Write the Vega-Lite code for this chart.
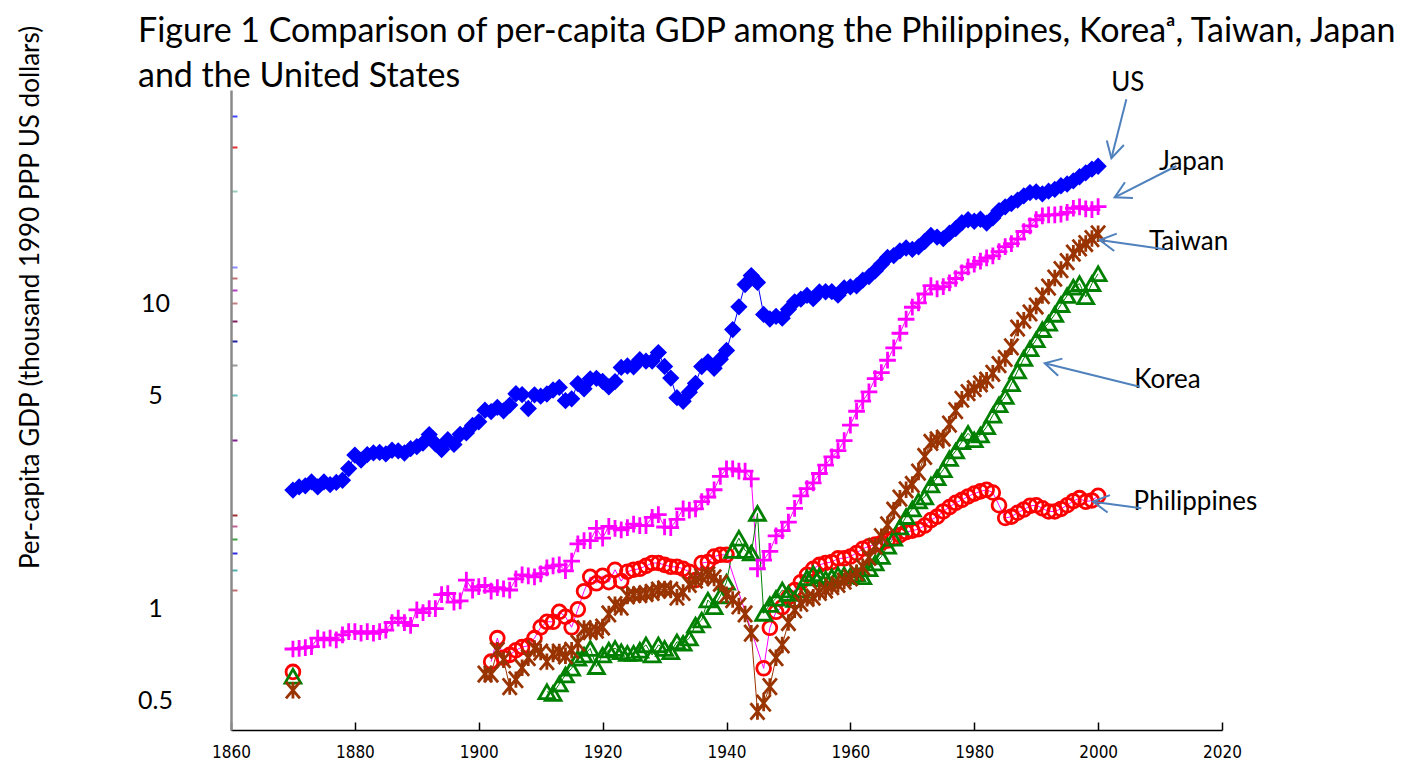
{
  "$schema": "https://vega.github.io/schema/vega-lite/v6.json",
  "width": 991,
  "height": 640,
  "autosize": {"type": "none"},
  "padding": {"left": 231, "top": 90, "right": 205, "bottom": 40},
  "background": "white",
  "config": {"view": {"stroke": null}},
  "title": {
    "text": ["Figure 1 Comparison of per-capita GDP among the Philippines, Koreaᵃ, Taiwan, Japan", "and the United States"],
    "anchor": "start", "frame": "group", "dx": -93, "dy": 73, "offset": 4,
    "font": "Lato", "fontSize": 34, "fontWeight": "normal", "lineHeight": 45, "color": "black"
  },
  "data": {"values": [
    {"c":"US","year":1870,"v":2.445},{"c":"US","year":1871,"v":2.503},{"c":"US","year":1872,"v":2.524},{"c":"US","year":1873,"v":2.599},{"c":"US","year":1874,"v":2.503},{"c":"US","year":1875,"v":2.599},{"c":"US","year":1876,"v":2.547},{"c":"US","year":1877,"v":2.589},{"c":"US","year":1878,"v":2.632},{"c":"US","year":1879,"v":2.874},
    {"c":"US","year":1880,"v":3.184},{"c":"US","year":1881,"v":3.065},{"c":"US","year":1882,"v":3.195},{"c":"US","year":1883,"v":3.235},{"c":"US","year":1884,"v":3.246},{"c":"US","year":1885,"v":3.21},{"c":"US","year":1886,"v":3.301},{"c":"US","year":1887,"v":3.287},{"c":"US","year":1888,"v":3.233},{"c":"US","year":1889,"v":3.34},
    {"c":"US","year":1890,"v":3.392},{"c":"US","year":1891,"v":3.485},{"c":"US","year":1892,"v":3.715},{"c":"US","year":1893,"v":3.467},{"c":"US","year":1894,"v":3.319},{"c":"US","year":1895,"v":3.575},{"c":"US","year":1896,"v":3.45},{"c":"US","year":1897,"v":3.722},{"c":"US","year":1898,"v":3.761},{"c":"US","year":1899,"v":3.979},
    {"c":"US","year":1900,"v":4.091},{"c":"US","year":1901,"v":4.464},{"c":"US","year":1902,"v":4.421},{"c":"US","year":1903,"v":4.564},{"c":"US","year":1904,"v":4.446},{"c":"US","year":1905,"v":4.642},{"c":"US","year":1906,"v":5.055},{"c":"US","year":1907,"v":5.025},{"c":"US","year":1908,"v":4.523},{"c":"US","year":1909,"v":5.016},
    {"c":"US","year":1910,"v":4.964},{"c":"US","year":1911,"v":5.046},{"c":"US","year":1912,"v":5.201},{"c":"US","year":1913,"v":5.301},{"c":"US","year":1914,"v":4.799},{"c":"US","year":1915,"v":4.864},{"c":"US","year":1916,"v":5.459},{"c":"US","year":1917,"v":5.248},{"c":"US","year":1918,"v":5.659},{"c":"US","year":1919,"v":5.68},
    {"c":"US","year":1920,"v":5.552},{"c":"US","year":1921,"v":5.323},{"c":"US","year":1922,"v":5.54},{"c":"US","year":1923,"v":6.164},{"c":"US","year":1924,"v":6.233},{"c":"US","year":1925,"v":6.198},{"c":"US","year":1926,"v":6.538},{"c":"US","year":1927,"v":6.464},{"c":"US","year":1928,"v":6.47},{"c":"US","year":1929,"v":6.899},
    {"c":"US","year":1930,"v":6.213},{"c":"US","year":1931,"v":5.691},{"c":"US","year":1932,"v":4.908},{"c":"US","year":1933,"v":4.777},{"c":"US","year":1934,"v":5.114},{"c":"US","year":1935,"v":5.467},{"c":"US","year":1936,"v":6.204},{"c":"US","year":1937,"v":6.43},{"c":"US","year":1938,"v":6.126},{"c":"US","year":1939,"v":6.561},
    {"c":"US","year":1940,"v":7.01},{"c":"US","year":1941,"v":8.206},{"c":"US","year":1942,"v":9.741},{"c":"US","year":1943,"v":11.518},{"c":"US","year":1944,"v":12.333},{"c":"US","year":1945,"v":11.709},{"c":"US","year":1946,"v":9.197},{"c":"US","year":1947,"v":8.886},{"c":"US","year":1948,"v":9.065},{"c":"US","year":1949,"v":8.944},
    {"c":"US","year":1950,"v":9.561},{"c":"US","year":1951,"v":10.116},{"c":"US","year":1952,"v":10.316},{"c":"US","year":1953,"v":10.613},{"c":"US","year":1954,"v":10.359},{"c":"US","year":1955,"v":10.897},{"c":"US","year":1956,"v":10.914},{"c":"US","year":1957,"v":10.92},{"c":"US","year":1958,"v":10.631},{"c":"US","year":1959,"v":11.23},
    {"c":"US","year":1960,"v":11.328},{"c":"US","year":1961,"v":11.402},{"c":"US","year":1962,"v":11.905},{"c":"US","year":1963,"v":12.242},{"c":"US","year":1964,"v":12.773},{"c":"US","year":1965,"v":13.419},{"c":"US","year":1966,"v":14.134},{"c":"US","year":1967,"v":14.33},{"c":"US","year":1968,"v":14.863},{"c":"US","year":1969,"v":15.179},
    {"c":"US","year":1970,"v":15.03},{"c":"US","year":1971,"v":15.304},{"c":"US","year":1972,"v":15.944},{"c":"US","year":1973,"v":16.689},{"c":"US","year":1974,"v":16.491},{"c":"US","year":1975,"v":16.284},{"c":"US","year":1976,"v":16.975},{"c":"US","year":1977,"v":17.567},{"c":"US","year":1978,"v":18.373},{"c":"US","year":1979,"v":18.789},
    {"c":"US","year":1980,"v":18.577},{"c":"US","year":1981,"v":18.856},{"c":"US","year":1982,"v":18.325},{"c":"US","year":1983,"v":19.047},{"c":"US","year":1984,"v":20.123},{"c":"US","year":1985,"v":20.717},{"c":"US","year":1986,"v":21.236},{"c":"US","year":1987,"v":21.788},{"c":"US","year":1988,"v":22.499},{"c":"US","year":1989,"v":23.059},
    {"c":"US","year":1990,"v":23.201},{"c":"US","year":1991,"v":22.849},{"c":"US","year":1992,"v":23.298},{"c":"US","year":1993,"v":23.616},{"c":"US","year":1994,"v":24.279},{"c":"US","year":1995,"v":24.603},{"c":"US","year":1996,"v":25.178},{"c":"US","year":1997,"v":25.987},{"c":"US","year":1998,"v":26.757},{"c":"US","year":1999,"v":27.523},{"c":"US","year":2000,"v":28.129},

    {"c":"Japan","year":1870,"v":0.737},{"c":"Japan","year":1871,"v":0.74},{"c":"Japan","year":1872,"v":0.745},{"c":"Japan","year":1873,"v":0.75},{"c":"Japan","year":1874,"v":0.8},{"c":"Japan","year":1875,"v":0.79},{"c":"Japan","year":1876,"v":0.8},{"c":"Japan","year":1877,"v":0.79},{"c":"Japan","year":1878,"v":0.82},{"c":"Japan","year":1879,"v":0.84},
    {"c":"Japan","year":1880,"v":0.84},{"c":"Japan","year":1881,"v":0.83},{"c":"Japan","year":1882,"v":0.84},{"c":"Japan","year":1883,"v":0.83},{"c":"Japan","year":1884,"v":0.84},{"c":"Japan","year":1885,"v":0.85},{"c":"Japan","year":1886,"v":0.9},{"c":"Japan","year":1887,"v":0.93},{"c":"Japan","year":1888,"v":0.9},{"c":"Japan","year":1889,"v":0.88},
    {"c":"Japan","year":1890,"v":0.99},{"c":"Japan","year":1891,"v":0.97},{"c":"Japan","year":1892,"v":1.0},{"c":"Japan","year":1893,"v":1.0},{"c":"Japan","year":1894,"v":1.11},{"c":"Japan","year":1895,"v":1.12},{"c":"Japan","year":1896,"v":1.05},{"c":"Japan","year":1897,"v":1.06},{"c":"Japan","year":1898,"v":1.24},{"c":"Japan","year":1899,"v":1.15},
    {"c":"Japan","year":1900,"v":1.18},{"c":"Japan","year":1901,"v":1.19},{"c":"Japan","year":1902,"v":1.14},{"c":"Japan","year":1903,"v":1.17},{"c":"Japan","year":1904,"v":1.16},{"c":"Japan","year":1905,"v":1.15},{"c":"Japan","year":1906,"v":1.25},{"c":"Japan","year":1907,"v":1.29},{"c":"Japan","year":1908,"v":1.28},{"c":"Japan","year":1909,"v":1.27},
    {"c":"Japan","year":1910,"v":1.3},{"c":"Japan","year":1911,"v":1.36},{"c":"Japan","year":1912,"v":1.38},{"c":"Japan","year":1913,"v":1.39},{"c":"Japan","year":1914,"v":1.33},{"c":"Japan","year":1915,"v":1.43},{"c":"Japan","year":1916,"v":1.63},{"c":"Japan","year":1917,"v":1.67},{"c":"Japan","year":1918,"v":1.67},{"c":"Japan","year":1919,"v":1.83},
    {"c":"Japan","year":1920,"v":1.7},{"c":"Japan","year":1921,"v":1.86},{"c":"Japan","year":1922,"v":1.83},{"c":"Japan","year":1923,"v":1.81},{"c":"Japan","year":1924,"v":1.84},{"c":"Japan","year":1925,"v":1.89},{"c":"Japan","year":1926,"v":1.87},{"c":"Japan","year":1927,"v":1.87},{"c":"Japan","year":1928,"v":1.99},{"c":"Japan","year":1929,"v":2.03},
    {"c":"Japan","year":1930,"v":1.85},{"c":"Japan","year":1931,"v":1.84},{"c":"Japan","year":1932,"v":1.96},{"c":"Japan","year":1933,"v":2.12},{"c":"Japan","year":1934,"v":2.1},{"c":"Japan","year":1935,"v":2.12},{"c":"Japan","year":1936,"v":2.24},{"c":"Japan","year":1937,"v":2.32},{"c":"Japan","year":1938,"v":2.45},{"c":"Japan","year":1939,"v":2.71},
    {"c":"Japan","year":1940,"v":2.87},{"c":"Japan","year":1941,"v":2.87},{"c":"Japan","year":1942,"v":2.82},{"c":"Japan","year":1943,"v":2.82},{"c":"Japan","year":1944,"v":2.66},{"c":"Japan","year":1945,"v":1.35},{"c":"Japan","year":1946,"v":1.44},{"c":"Japan","year":1947,"v":1.54},{"c":"Japan","year":1948,"v":1.73},{"c":"Japan","year":1949,"v":1.8},
    {"c":"Japan","year":1950,"v":1.92},{"c":"Japan","year":1951,"v":2.13},{"c":"Japan","year":1952,"v":2.34},{"c":"Japan","year":1953,"v":2.47},{"c":"Japan","year":1954,"v":2.58},{"c":"Japan","year":1955,"v":2.77},{"c":"Japan","year":1956,"v":2.95},{"c":"Japan","year":1957,"v":3.14},{"c":"Japan","year":1958,"v":3.29},{"c":"Japan","year":1959,"v":3.55},
    {"c":"Japan","year":1960,"v":3.99},{"c":"Japan","year":1961,"v":4.43},{"c":"Japan","year":1962,"v":4.78},{"c":"Japan","year":1963,"v":5.13},{"c":"Japan","year":1964,"v":5.67},{"c":"Japan","year":1965,"v":5.93},{"c":"Japan","year":1966,"v":6.51},{"c":"Japan","year":1967,"v":7.15},{"c":"Japan","year":1968,"v":7.98},{"c":"Japan","year":1969,"v":8.87},
    {"c":"Japan","year":1970,"v":9.71},{"c":"Japan","year":1971,"v":10.04},{"c":"Japan","year":1972,"v":10.73},{"c":"Japan","year":1973,"v":11.43},{"c":"Japan","year":1974,"v":11.15},{"c":"Japan","year":1975,"v":11.34},{"c":"Japan","year":1976,"v":11.67},{"c":"Japan","year":1977,"v":12.06},{"c":"Japan","year":1978,"v":12.59},{"c":"Japan","year":1979,"v":13.16},
    {"c":"Japan","year":1980,"v":13.43},{"c":"Japan","year":1981,"v":13.75},{"c":"Japan","year":1982,"v":14.08},{"c":"Japan","year":1983,"v":14.31},{"c":"Japan","year":1984,"v":14.77},{"c":"Japan","year":1985,"v":15.33},{"c":"Japan","year":1986,"v":15.68},{"c":"Japan","year":1987,"v":16.25},{"c":"Japan","year":1988,"v":17.19},{"c":"Japan","year":1989,"v":17.94},
    {"c":"Japan","year":1990,"v":18.79},{"c":"Japan","year":1991,"v":19.36},{"c":"Japan","year":1992,"v":19.48},{"c":"Japan","year":1993,"v":19.48},{"c":"Japan","year":1994,"v":19.6},{"c":"Japan","year":1995,"v":19.86},{"c":"Japan","year":1996,"v":20.49},{"c":"Japan","year":1997,"v":20.72},{"c":"Japan","year":1998,"v":20.41},{"c":"Japan","year":1999,"v":20.29},{"c":"Japan","year":2000,"v":20.74},

    {"c":"Philippines","year":1870,"v":0.62},
    {"c":"Philippines","year":1902,"v":0.67},{"c":"Philippines","year":1903,"v":0.8},{"c":"Philippines","year":1904,"v":0.69},{"c":"Philippines","year":1905,"v":0.705},{"c":"Philippines","year":1906,"v":0.73},{"c":"Philippines","year":1907,"v":0.748},{"c":"Philippines","year":1908,"v":0.755},{"c":"Philippines","year":1909,"v":0.8},
    {"c":"Philippines","year":1910,"v":0.868},{"c":"Philippines","year":1911,"v":0.905},{"c":"Philippines","year":1912,"v":0.905},{"c":"Philippines","year":1913,"v":0.976},{"c":"Philippines","year":1914,"v":0.94},{"c":"Philippines","year":1915,"v":0.868},{"c":"Philippines","year":1916,"v":0.994},{"c":"Philippines","year":1917,"v":1.14},{"c":"Philippines","year":1918,"v":1.27},{"c":"Philippines","year":1919,"v":1.21},
    {"c":"Philippines","year":1920,"v":1.28},{"c":"Philippines","year":1921,"v":1.22},{"c":"Philippines","year":1922,"v":1.34},{"c":"Philippines","year":1923,"v":1.23},{"c":"Philippines","year":1924,"v":1.32},{"c":"Philippines","year":1925,"v":1.34},{"c":"Philippines","year":1926,"v":1.35},{"c":"Philippines","year":1927,"v":1.38},{"c":"Philippines","year":1928,"v":1.41},{"c":"Philippines","year":1929,"v":1.41},
    {"c":"Philippines","year":1930,"v":1.39},{"c":"Philippines","year":1931,"v":1.37},{"c":"Philippines","year":1932,"v":1.37},{"c":"Philippines","year":1933,"v":1.35},{"c":"Philippines","year":1934,"v":1.32},{"c":"Philippines","year":1935,"v":1.24},{"c":"Philippines","year":1936,"v":1.41},{"c":"Philippines","year":1937,"v":1.42},{"c":"Philippines","year":1938,"v":1.48},{"c":"Philippines","year":1939,"v":1.5},
    {"c":"Philippines","year":1940,"v":1.5},
    {"c":"Philippines","year":1946,"v":0.637},{"c":"Philippines","year":1947,"v":0.865},{"c":"Philippines","year":1948,"v":0.976},{"c":"Philippines","year":1949,"v":1.01},
    {"c":"Philippines","year":1950,"v":1.09},{"c":"Philippines","year":1951,"v":1.15},{"c":"Philippines","year":1952,"v":1.22},{"c":"Philippines","year":1953,"v":1.29},{"c":"Philippines","year":1954,"v":1.35},{"c":"Philippines","year":1955,"v":1.39},{"c":"Philippines","year":1956,"v":1.41},{"c":"Philippines","year":1957,"v":1.42},{"c":"Philippines","year":1958,"v":1.46},{"c":"Philippines","year":1959,"v":1.46},
    {"c":"Philippines","year":1960,"v":1.48},{"c":"Philippines","year":1961,"v":1.52},{"c":"Philippines","year":1962,"v":1.57},{"c":"Philippines","year":1963,"v":1.6},{"c":"Philippines","year":1964,"v":1.62},{"c":"Philippines","year":1965,"v":1.64},{"c":"Philippines","year":1966,"v":1.67},{"c":"Philippines","year":1967,"v":1.7},{"c":"Philippines","year":1968,"v":1.74},{"c":"Philippines","year":1969,"v":1.78},
    {"c":"Philippines","year":1970,"v":1.8},{"c":"Philippines","year":1971,"v":1.82},{"c":"Philippines","year":1972,"v":1.87},{"c":"Philippines","year":1973,"v":1.95},{"c":"Philippines","year":1974,"v":2.0},{"c":"Philippines","year":1975,"v":2.08},{"c":"Philippines","year":1976,"v":2.15},{"c":"Philippines","year":1977,"v":2.22},{"c":"Philippines","year":1978,"v":2.27},{"c":"Philippines","year":1979,"v":2.33},
    {"c":"Philippines","year":1980,"v":2.38},{"c":"Philippines","year":1981,"v":2.42},{"c":"Philippines","year":1982,"v":2.45},{"c":"Philippines","year":1983,"v":2.4},{"c":"Philippines","year":1984,"v":2.18},{"c":"Philippines","year":1985,"v":1.98},{"c":"Philippines","year":1986,"v":2.0},{"c":"Philippines","year":1987,"v":2.06},{"c":"Philippines","year":1988,"v":2.11},{"c":"Philippines","year":1989,"v":2.17},
    {"c":"Philippines","year":1990,"v":2.18},{"c":"Philippines","year":1991,"v":2.13},{"c":"Philippines","year":1992,"v":2.08},{"c":"Philippines","year":1993,"v":2.08},{"c":"Philippines","year":1994,"v":2.12},{"c":"Philippines","year":1995,"v":2.18},{"c":"Philippines","year":1996,"v":2.25},{"c":"Philippines","year":1997,"v":2.3},{"c":"Philippines","year":1998,"v":2.24},{"c":"Philippines","year":1999,"v":2.26},{"c":"Philippines","year":2000,"v":2.34},

    {"c":"Korea","year":1870,"v":0.6},
    {"c":"Korea","year":1911,"v":0.534},{"c":"Korea","year":1912,"v":0.527},{"c":"Korea","year":1913,"v":0.566},{"c":"Korea","year":1914,"v":0.606},{"c":"Korea","year":1915,"v":0.637},{"c":"Korea","year":1916,"v":0.687},{"c":"Korea","year":1917,"v":0.704},{"c":"Korea","year":1918,"v":0.74},{"c":"Korea","year":1919,"v":0.645},
    {"c":"Korea","year":1920,"v":0.704},{"c":"Korea","year":1921,"v":0.731},{"c":"Korea","year":1922,"v":0.74},{"c":"Korea","year":1923,"v":0.722},{"c":"Korea","year":1924,"v":0.713},{"c":"Korea","year":1925,"v":0.713},{"c":"Korea","year":1926,"v":0.73},{"c":"Korea","year":1927,"v":0.76},{"c":"Korea","year":1928,"v":0.704},{"c":"Korea","year":1929,"v":0.76},
    {"c":"Korea","year":1930,"v":0.74},{"c":"Korea","year":1931,"v":0.722},{"c":"Korea","year":1932,"v":0.778},{"c":"Korea","year":1933,"v":0.769},{"c":"Korea","year":1934,"v":0.8},{"c":"Korea","year":1935,"v":0.883},{"c":"Korea","year":1936,"v":0.917},{"c":"Korea","year":1937,"v":1.066},{"c":"Korea","year":1938,"v":1.014},{"c":"Korea","year":1939,"v":1.1},
    {"c":"Korea","year":1940,"v":1.22},{"c":"Korea","year":1941,"v":1.55},{"c":"Korea","year":1942,"v":1.7},{"c":"Korea","year":1943,"v":1.55},{"c":"Korea","year":1944,"v":1.52},{"c":"Korea","year":1945,"v":2.05},{"c":"Korea","year":1946,"v":0.964},{"c":"Korea","year":1947,"v":1.03},{"c":"Korea","year":1948,"v":1.08},{"c":"Korea","year":1949,"v":1.15},
    {"c":"Korea","year":1950,"v":1.12},{"c":"Korea","year":1951,"v":1.07},{"c":"Korea","year":1952,"v":1.15},{"c":"Korea","year":1953,"v":1.26},{"c":"Korea","year":1954,"v":1.3},{"c":"Korea","year":1955,"v":1.28},{"c":"Korea","year":1956,"v":1.25},{"c":"Korea","year":1957,"v":1.27},{"c":"Korea","year":1958,"v":1.29},{"c":"Korea","year":1959,"v":1.29},
    {"c":"Korea","year":1960,"v":1.28},{"c":"Korea","year":1961,"v":1.3},{"c":"Korea","year":1962,"v":1.27},{"c":"Korea","year":1963,"v":1.35},{"c":"Korea","year":1964,"v":1.41},{"c":"Korea","year":1965,"v":1.48},{"c":"Korea","year":1966,"v":1.6},{"c":"Korea","year":1967,"v":1.7},{"c":"Korea","year":1968,"v":1.85},{"c":"Korea","year":1969,"v":2.0},
    {"c":"Korea","year":1970,"v":2.12},{"c":"Korea","year":1971,"v":2.25},{"c":"Korea","year":1972,"v":2.32},{"c":"Korea","year":1973,"v":2.54},{"c":"Korea","year":1974,"v":2.68},{"c":"Korea","year":1975,"v":2.85},{"c":"Korea","year":1976,"v":3.1},{"c":"Korea","year":1977,"v":3.28},{"c":"Korea","year":1978,"v":3.52},{"c":"Korea","year":1979,"v":3.75},
    {"c":"Korea","year":1980,"v":3.57},{"c":"Korea","year":1981,"v":3.7},{"c":"Korea","year":1982,"v":3.94},{"c":"Korea","year":1983,"v":4.3},{"c":"Korea","year":1984,"v":4.65},{"c":"Korea","year":1985,"v":4.95},{"c":"Korea","year":1986,"v":5.45},{"c":"Korea","year":1987,"v":6.0},{"c":"Korea","year":1988,"v":6.6},{"c":"Korea","year":1989,"v":7.1},
    {"c":"Korea","year":1990,"v":7.6},{"c":"Korea","year":1991,"v":8.2},{"c":"Korea","year":1992,"v":8.6},{"c":"Korea","year":1993,"v":9.2},{"c":"Korea","year":1994,"v":9.9},{"c":"Korea","year":1995,"v":10.6},{"c":"Korea","year":1996,"v":11.3},{"c":"Korea","year":1997,"v":11.6},{"c":"Korea","year":1998,"v":10.5},{"c":"Korea","year":1999,"v":11.6},{"c":"Korea","year":2000,"v":12.5},

    {"c":"Taiwan","year":1870,"v":0.54},
    {"c":"Taiwan","year":1901,"v":0.61},{"c":"Taiwan","year":1902,"v":0.61},{"c":"Taiwan","year":1903,"v":0.73},{"c":"Taiwan","year":1904,"v":0.68},{"c":"Taiwan","year":1905,"v":0.555},{"c":"Taiwan","year":1906,"v":0.585},{"c":"Taiwan","year":1907,"v":0.64},{"c":"Taiwan","year":1908,"v":0.69},{"c":"Taiwan","year":1909,"v":0.74},
    {"c":"Taiwan","year":1910,"v":0.72},{"c":"Taiwan","year":1911,"v":0.67},{"c":"Taiwan","year":1912,"v":0.71},{"c":"Taiwan","year":1913,"v":0.72},{"c":"Taiwan","year":1914,"v":0.7},{"c":"Taiwan","year":1915,"v":0.73},{"c":"Taiwan","year":1916,"v":0.77},{"c":"Taiwan","year":1917,"v":0.86},{"c":"Taiwan","year":1918,"v":0.84},{"c":"Taiwan","year":1919,"v":0.85},
    {"c":"Taiwan","year":1920,"v":0.87},{"c":"Taiwan","year":1921,"v":0.96},{"c":"Taiwan","year":1922,"v":1.03},{"c":"Taiwan","year":1923,"v":1.01},{"c":"Taiwan","year":1924,"v":1.1},{"c":"Taiwan","year":1925,"v":1.11},{"c":"Taiwan","year":1926,"v":1.11},{"c":"Taiwan","year":1927,"v":1.12},{"c":"Taiwan","year":1928,"v":1.13},{"c":"Taiwan","year":1929,"v":1.15},
    {"c":"Taiwan","year":1930,"v":1.16},{"c":"Taiwan","year":1931,"v":1.15},{"c":"Taiwan","year":1932,"v":1.09},{"c":"Taiwan","year":1933,"v":1.13},{"c":"Taiwan","year":1934,"v":1.2},{"c":"Taiwan","year":1935,"v":1.24},{"c":"Taiwan","year":1936,"v":1.27},{"c":"Taiwan","year":1937,"v":1.29},{"c":"Taiwan","year":1938,"v":1.26},{"c":"Taiwan","year":1939,"v":1.21},
    {"c":"Taiwan","year":1940,"v":1.11},{"c":"Taiwan","year":1941,"v":1.07},{"c":"Taiwan","year":1942,"v":1.02},{"c":"Taiwan","year":1943,"v":0.96},{"c":"Taiwan","year":1944,"v":0.83},{"c":"Taiwan","year":1945,"v":0.46},{"c":"Taiwan","year":1946,"v":0.49},{"c":"Taiwan","year":1947,"v":0.555},{"c":"Taiwan","year":1948,"v":0.69},{"c":"Taiwan","year":1949,"v":0.76},
    {"c":"Taiwan","year":1950,"v":0.9},{"c":"Taiwan","year":1951,"v":0.99},{"c":"Taiwan","year":1952,"v":1.04},{"c":"Taiwan","year":1953,"v":1.08},{"c":"Taiwan","year":1954,"v":1.09},{"c":"Taiwan","year":1955,"v":1.13},{"c":"Taiwan","year":1956,"v":1.15},{"c":"Taiwan","year":1957,"v":1.18},{"c":"Taiwan","year":1958,"v":1.2},{"c":"Taiwan","year":1959,"v":1.23},
    {"c":"Taiwan","year":1960,"v":1.26},{"c":"Taiwan","year":1961,"v":1.31},{"c":"Taiwan","year":1962,"v":1.37},{"c":"Taiwan","year":1963,"v":1.47},{"c":"Taiwan","year":1964,"v":1.6},{"c":"Taiwan","year":1965,"v":1.72},{"c":"Taiwan","year":1966,"v":1.88},{"c":"Taiwan","year":1967,"v":2.1},{"c":"Taiwan","year":1968,"v":2.3},{"c":"Taiwan","year":1969,"v":2.45},
    {"c":"Taiwan","year":1970,"v":2.55},{"c":"Taiwan","year":1971,"v":2.8},{"c":"Taiwan","year":1972,"v":3.15},{"c":"Taiwan","year":1973,"v":3.5},{"c":"Taiwan","year":1974,"v":3.57},{"c":"Taiwan","year":1975,"v":3.62},{"c":"Taiwan","year":1976,"v":4.02},{"c":"Taiwan","year":1977,"v":4.45},{"c":"Taiwan","year":1978,"v":4.85},{"c":"Taiwan","year":1979,"v":5.1},
    {"c":"Taiwan","year":1980,"v":5.25},{"c":"Taiwan","year":1981,"v":5.45},{"c":"Taiwan","year":1982,"v":5.6},{"c":"Taiwan","year":1983,"v":5.9},{"c":"Taiwan","year":1984,"v":6.3},{"c":"Taiwan","year":1985,"v":6.6},{"c":"Taiwan","year":1986,"v":7.2},{"c":"Taiwan","year":1987,"v":8.3},{"c":"Taiwan","year":1988,"v":8.8},{"c":"Taiwan","year":1989,"v":9.3},
    {"c":"Taiwan","year":1990,"v":9.8},{"c":"Taiwan","year":1991,"v":10.6},{"c":"Taiwan","year":1992,"v":11.3},{"c":"Taiwan","year":1993,"v":12.1},{"c":"Taiwan","year":1994,"v":12.9},{"c":"Taiwan","year":1995,"v":13.7},{"c":"Taiwan","year":1996,"v":14.6},{"c":"Taiwan","year":1997,"v":15.2},{"c":"Taiwan","year":1998,"v":15.7},{"c":"Taiwan","year":1999,"v":16.3},{"c":"Taiwan","year":2000,"v":16.9}
  ]},
  "encoding": {
    "x": {"field": "year", "type": "quantitative",
      "scale": {"domain": [1860, 2020], "nice": false, "zero": false},
      "axis": {"title": null, "values": [1860,1880,1900,1920,1940,1960,1980,2000,2020], "format": "d", "grid": false,
        "labelFont": "DejaVu Sans Condensed", "labelFontSize": 17, "labelColor": "black", "labelPadding": 22,
        "tickSize": -8, "tickColor": "black", "tickWidth": 1.5, "domainColor": "black", "domainWidth": 1.5, "labelFlush": false}},
    "y": {"field": "v", "type": "quantitative",
      "scale": {"type": "log", "domain": [0.4, 50], "nice": false},
      "axis": {"title": "Per-capita GDP (thousand 1990 PPP US dollars)", "grid": false,
        "values": [0.5, 1, 1.15, 1.34, 1.52, 1.69, 1.86, 2.02, 3.56, 5, 6.28, 7.53, 8.75, 10, 11.1, 12.1, 13.2, 23.3, 32.5, 41],
        "labelExpr": "datum.value == 0.5 ? '0.5' : datum.value == 1 ? '1' : datum.value == 5 ? '5' : datum.value == 10 ? '10' : ''",
        "labelOverlap": false, "labelFont": "Lato", "labelFontSize": 25, "labelColor": "black", "labelAlign": "center", "labelBaseline": "middle", "labelPadding": 82,
        "tickSize": -6, "tickWidth": 2,
        "tickColor": {"condition": [
          {"test": "datum.value == 41", "value": "#4444ff"},
          {"test": "datum.value == 32.5", "value": "#e03030"},
          {"test": "datum.value == 23.3", "value": "#99ccbb"},
          {"test": "datum.value == 13.2", "value": "#8888ff"},
          {"test": "datum.value == 12.1", "value": "#c07070"},
          {"test": "datum.value == 11.1", "value": "#b040c0"},
          {"test": "datum.value == 10", "value": "#c08080"},
          {"test": "datum.value == 8.75", "value": "#802060"},
          {"test": "datum.value == 7.53", "value": "#2020a0"},
          {"test": "datum.value == 6.28", "value": "#999999"},
          {"test": "datum.value == 5", "value": "#66bbbb"},
          {"test": "datum.value == 3.56", "value": "#802090"},
          {"test": "datum.value == 2.02", "value": "#a03030"},
          {"test": "datum.value == 1.86", "value": "#c06090"},
          {"test": "datum.value == 1.69", "value": "#40a040"},
          {"test": "datum.value == 1.52", "value": "#3030e0"},
          {"test": "datum.value == 1.34", "value": "#50b0b0"},
          {"test": "datum.value == 1.15", "value": "#c07070"}
        ], "value": "transparent"},
        "domainColor": "#8a8a8a", "domainWidth": 2.5,
        "titleFont": "Lato", "titleFontSize": 26, "titleFontWeight": "normal", "titleColor": "black",
        "titleX": -201, "titleY": 207, "titleAngle": -90, "titleAlign": "center", "titleBaseline": "middle"}}
  },
  "layer": [
    {"transform": [{"filter": "datum.year > 1870 || datum.c == 'US' || datum.c == 'Japan'"}],
     "mark": {"type": "line", "strokeWidth": 1},
     "encoding": {"detail": {"field": "c"},
       "color": {"field": "c", "type": "nominal", "legend": null,
         "scale": {"domain": ["US","Japan","Philippines","Korea","Taiwan"], "range": ["#0000FF","#FF00FF","#FF00FF","#008000","#993300"]}}}},
    {"transform": [{"filter": "datum.c == 'Philippines'"}],
     "mark": {"type": "point", "shape": "circle", "filled": false, "stroke": "#FF0000", "strokeWidth": 2.8, "size": 190, "opacity": 1}},
    {"transform": [{"filter": "datum.c == 'Korea'"}],
     "mark": {"type": "point", "shape": "triangle-up", "filled": false, "stroke": "#008000", "strokeWidth": 2.8, "size": 250, "opacity": 1}},
    {"transform": [{"filter": "datum.c == 'Taiwan'"}],
     "mark": {"type": "point", "shape": "M-0.85,-1L0.85,1M-0.85,1L0.85,-1M0,-1L0,1", "filled": false, "stroke": "#993300", "strokeWidth": 2.8, "size": 270, "opacity": 1}},
    {"transform": [{"filter": "datum.c == 'Japan'"}],
     "mark": {"type": "point", "shape": "M-1,0L1,0M0,-1L0,1", "filled": false, "stroke": "#FF00FF", "strokeWidth": 2.8, "size": 280, "opacity": 1}},
    {"transform": [{"filter": "datum.c == 'US'"}],
     "mark": {"type": "point", "shape": "diamond", "filled": true, "fill": "#0000FF", "stroke": "#0000FF", "strokeWidth": 1.5, "size": 230, "opacity": 1}},
    {"data": {"values": [
      {"lab":"US","year":2004.8,"v":52.7},
      {"lab":"Japan","year":2015.1,"v":29.0},
      {"lab":"Taiwan","year":2014.6,"v":15.87},
      {"lab":"Korea","year":2011.2,"v":5.61},
      {"lab":"Philippines","year":2015.7,"v":2.23}]},
     "mark": {"type": "text", "font": "Lato", "fontSize": 26, "color": "black", "align": "center", "baseline": "middle"},
     "encoding": {"text": {"field": "lab"}}},
    {"data": {"values": [
      {"year":2004.56,"v":46.6,"year2":2002.14,"v2":29.87},
      {"year":2012.63,"v":28.18,"year2":2002.67,"v2":22.25},
      {"year":2010.74,"v":15.03,"year2":2000.25,"v2":16.12},
      {"year":2006.71,"v":5.33,"year2":1991.38,"v2":6.36},
      {"year":2006.98,"v":2.13,"year2":1999.17,"v2":2.24}]},
     "mark": {"type": "rule", "color": "#4F81BD", "strokeWidth": 2},
     "encoding": {"x2": {"field": "year2"}, "y2": {"field": "v2"}}},
    {"data": {"values": [
      {"year":2002.14,"v":29.87,"heading":104.3},
      {"year":2002.67,"v":22.25,"heading":153.1},
      {"year":2000.25,"v":16.12,"heading":188.1},
      {"year":1991.38,"v":6.36,"heading":193.8},
      {"year":1999.17,"v":2.24,"heading":187.8}]},
     "mark": {"type": "point", "shape": "M-1,-0.55L0,0L-1,0.55", "filled": false, "stroke": "#4F81BD", "strokeWidth": 2, "size": 1024, "opacity": 1},
     "encoding": {"angle": {"field": "heading", "type": "quantitative", "scale": null}}}
  ]
}
